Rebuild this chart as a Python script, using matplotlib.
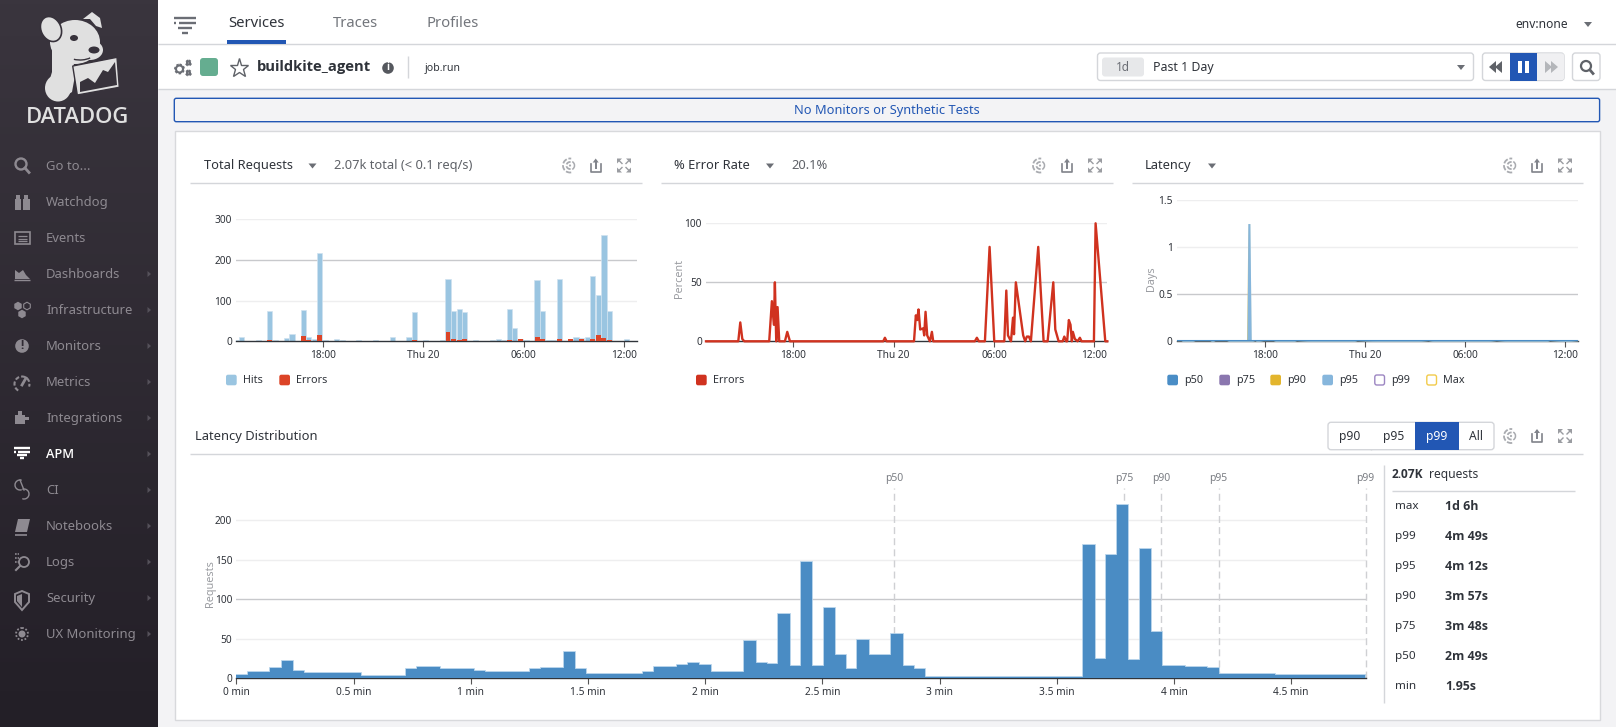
import matplotlib
matplotlib.use('Agg')
import matplotlib.pyplot as plt
import matplotlib.patches as mpatches
import numpy as np

plt.rcParams['font.family'] = ['Noto Sans', 'DejaVu Sans']

# total requests, 20 minute bins
hits = [3, 10, 0, 0, 3, 0, 75, 3, 0, 8, 18, 0, 77, 10, 5, 218, 3, 0, 5, 3, 0, 0, 3, 0,
        0, 3, 0, 0, 10, 0, 0, 10, 72, 0, 3, 0, 0, 3, 153, 75, 79, 72, 0, 3, 0, 0, 3, 5,
        3, 79, 32, 5, 3, 0, 151, 75, 3, 3, 153, 0, 5, 10, 8, 10, 161, 114, 262, 75, 0, 0, 5, 0]
errors = [0, 0, 0, 0, 0, 0, 3, 0, 0, 0, 0, 0, 13, 3, 0, 15, 0, 0, 0, 0, 0, 0, 0, 0,
          0, 0, 0, 0, 0, 0, 0, 0, 3, 0, 0, 0, 0, 0, 23, 5, 3, 5, 0, 0, 0, 0, 0, 0,
          0, 3, 0, 5, 0, 0, 10, 5, 0, 0, 5, 0, 5, 0, 5, 0, 5, 15, 8, 3, 0, 0, 0, 0]

# error rate, hours relative to 18:00
rate_hours = [-5.22, -3.29, -3.17, -3.05, -2.93, -1.44, -1.28, -1.16, -1.10, -1.02, -0.94, -0.84,
              -0.50, -0.36, -0.20, 5.38, 5.48, 5.58, 7.22, 7.33, 7.41, 7.49, 7.59, 7.77, 7.83,
              7.91, 8.01, 8.17, 8.29, 8.37, 10.86, 10.98, 11.10, 11.46, 11.74, 12.02, 12.62,
              12.74, 12.84, 13.02, 13.14, 13.20, 13.31, 13.75, 13.87, 13.97, 14.09, 14.21, 14.65,
              14.97, 15.21, 15.55, 15.67, 15.87, 16.11, 16.21, 16.32, 16.38, 16.48, 16.58, 16.66,
              16.72, 16.84, 17.00, 17.14, 17.24, 17.98, 18.08, 18.66, 18.78]
rate_pct = [0, 0, 16, 2, 0, 0, 34, 14, 50, 0, 29, 0,
            0, 8, 0, 0, 3, 0, 0, 22, 18, 27, 10, 11, 5,
            25, 5, 0, 8, 0, 0, 3, 0, 0, 80, 0, 0,
            43, 5, 0, 20, 6, 50, 5, 0, 4, 4, 0, 80,
            0, 0, 50, 10, 0, 0, 4, 0, 0, 18, 14, 0,
            8, 2, 0, 3, 0, 0, 100, 0, 0]

# latency in days
lat_hours = [-5.26, -5.0, -4.86, -4.37, -4.17, -3.27, -3.13, -2.97, -2.27, -2.07, -1.57, -1.28,
             -1.08, -1.04, -1.0, -0.88, -0.80, -0.58, -0.44, -0.08, 0.52, 0.72, 1.71, 1.91,
             3.01, 3.81, 4.11, 5.30, 5.54, 7.0, 8.49, 9.09, 9.79, 10.19, 11.28, 12.68, 13.27,
             13.87, 14.67, 15.07, 16.86, 17.06, 18.06, 18.76]
lat_p90 = [0.002, 0.002, 0.01, 0.01, 0.002, 0.002, 0.01, 0.002, 0.002, 0.01, 0.01, 0.01,
           0.01, 0.6, 1.25, 0.01, 0.01, 0.002, 0.01, 0.002, 0.002, 0.01, 0.01, 0.002,
           0.01, 0.01, 0.01, 0.01, 0.002, 0.01, 0.01, 0.01, 0.002, 0.01, 0.01, 0.01, 0.01,
           0.002, 0.01, 0.01, 0.01, 0.002, 0.01, 0.002]
lat_p95 = [0.003, 0.003, 0.012, 0.012, 0.003, 0.003, 0.012, 0.003, 0.003, 0.012, 0.012, 0.012,
           0.012, 0.012, 1.25, 1.25, 0.012, 0.003, 0.012, 0.003, 0.003, 0.012, 0.012, 0.003,
           0.012, 0.012, 0.012, 0.012, 0.003, 0.012, 0.012, 0.012, 0.003, 0.012, 0.012, 0.012, 0.012,
           0.003, 0.012, 0.012, 0.012, 0.003, 0.012, 0.003]
lat_max = [0.005, 0.005, 0.016, 0.016, 0.005, 0.005, 0.016, 0.005, 0.005, 0.016, 0.016, 0.016,
           0.016, 0.016, 1.25, 1.25, 0.016, 0.005, 0.016, 0.005, 0.005, 0.016, 0.016, 0.005,
           0.016, 0.016, 0.016, 0.016, 0.005, 0.016, 0.016, 0.016, 0.005, 0.016, 0.016, 0.016, 0.016,
           0.005, 0.016, 0.016, 0.016, 0.005, 0.016, 0.005]
p50_hours = [-5.26, 18.76]
lat_p50 = [0.003, 0.003]

# latency distribution, 100 bins up to p99
requests = [4, 8.5, 8.5, 13, 21.5, 9.5, 6.5, 6.5, 6.5, 6.5, 6.5, 3.5, 3.5, 3.5, 3.5, 11.5, 14.5, 14.5, 11.5, 11.5,
            11.5, 9.5, 8.5, 8.5, 8.5, 8.5, 11.5, 12.5, 12.5, 33.5, 11.5, 5.5, 5.5, 5.5, 5.5, 5.5, 7.5, 14.5, 14.5, 16.5,
            19.5, 16.5, 8.5, 8.5, 8.5, 47.5, 19.5, 17.5, 81.5, 15.6, 147, 15.6, 89, 29.5, 11.5, 48.5, 29.5, 29.5, 55.7, 16,
            11.5, 1.5, 1.5, 1.5, 1.5, 1.5, 1.5, 1.5, 1.5, 1.5, 1.5, 1.5, 1.5, 1.5, 1.5, 169, 25, 156, 219, 23,
            163, 58, 15.6, 15.6, 14.3, 14.3, 13.5, 5.5, 5.5, 5.5, 5.5, 5.5, 4, 4, 4, 4, 4, 4, 4, 4]
p_names = ['p50', 'p75', 'p90', 'p95', 'p99']
p_minutes = [2.806, 3.788, 3.946, 4.19, 4.817]

stat_names = ['max', 'p99', 'p95', 'p90', 'p75', 'p50', 'min']
stat_values = ['1d 6h', '4m 49s', '4m 12s', '3m 57s', '3m 48s', '2m 49s', '1.95s']

nav_items = ['Go to...', 'Watchdog', 'Events', 'Dashboards', 'Infrastructure', 'Monitors', 'Metrics',
             'Integrations', 'APM', 'CI', 'Notebooks', 'Logs', 'Security', 'UX Monitoring']
hour_ticks = [0, 6, 12, 18]
hour_labels = ['18:00', 'Thu 20', '06:00', '12:00']
dist_ticks = [0, 0.5, 1, 1.5, 2, 2.5, 3, 3.5, 4, 4.5]
dist_labels = ['0 min', '0.5 min', '1 min', '1.5 min', '2 min', '2.5 min', '3 min', '3.5 min', '4 min', '4.5 min']

W, H = 1616, 727
TEXT = '#2f333a'
ICON = '#80838a'
BLUE = '#2257b4'
LINE = '#d4d6da'

fig = plt.figure(figsize=(W / 100, H / 100), dpi=100, facecolor='#f3f3f5')
bg = fig.add_axes([0, 0, 1, 1])
bg.set_axis_off()


def rect(x0, y0, x1, y1, fc='white', ec='none', lw=1, r=0, z=1):
    bs = 'round,pad=0,rounding_size=%s' % r if r else 'square,pad=0'
    bg.add_patch(mpatches.FancyBboxPatch((x0, y0), x1 - x0, y1 - y0, boxstyle=bs, fc=fc, ec=ec, lw=lw, zorder=z))


def txt(x, y, s, size=8.5, color=TEXT, weight='normal', ha='left', z=5):
    # Noto Sans here has no bold face, Open Sans does
    family = 'Open Sans' if weight != 'normal' else 'Noto Sans'
    bg.text(x, y + 0.8, s, fontsize=size, color=color, fontweight=weight, family=family, ha=ha, va='center', zorder=z)


def hline(x0, x1, y, color=LINE, lw=1):
    bg.plot([x0, x1], [y, y], color=color, lw=lw, solid_capstyle='butt', zorder=2)


def vline(x, y0, y1, color=LINE, lw=1):
    bg.plot([x, x], [y0, y1], color=color, lw=lw, solid_capstyle='butt', zorder=2)


def poly(pts, fc, z=4, ec='none', lw=1):
    bg.add_patch(mpatches.Polygon(pts, closed=True, fc=fc, ec=ec, lw=lw, zorder=z))


def circle(x, y, r, fc='none', ec=ICON, lw=1.2, z=4, ls='-'):
    bg.add_patch(mpatches.Circle((x, y), r, fc=fc, ec=ec, lw=lw, ls=ls, zorder=z))


def caret(x, y, color='#6b6e75', s=4):
    poly([(x - s, y - 2), (x + s, y - 2), (x, y + 3)], color)


def filter_icon(x, y, color, scale=1.0):
    # apm style stack of lines, x is the centre
    s = scale
    hline(x - 12 * s, x + 12 * s, y - 7 * s, color, 1.7)
    hline(x - 12 * s, x - 9 * s, y - 2 * s, color, 1.7)
    hline(x - 6 * s, x + 12 * s, y - 2 * s, color, 1.7)
    hline(x - 7 * s, x + 7 * s, y + 3 * s, color, 1.7)
    hline(x - 3 * s, x + 3 * s, y + 8 * s, color, 1.7)


def panel_icons(x0, x1, x2, y):
    for r in (3.5, 7):
        bg.add_patch(mpatches.Arc((x0 + 2, y), r * 2, r * 2, theta1=80, theta2=280, color='#a9abb0', lw=1.3, ls=(0, (3, 1)), zorder=4))
    bg.add_patch(mpatches.Arc((x0 + 2, y), 9, 9, theta1=-60, theta2=60, color='#a9abb0', lw=1.1, zorder=4))
    circle(x0 + 2, y, 1.1, fc='#a9abb0', ec='none')
    # share
    bg.plot([x1 - 5, x1 - 5, x1 + 5, x1 + 5], [y - 2, y + 6, y + 6, y - 2], color=ICON, lw=1.2, zorder=4)
    vline(x1, y - 6, y + 3, ICON, 1.4)
    poly([(x1 - 3, y - 3), (x1, y - 7), (x1 + 3, y - 3)], ICON)
    # expand
    for sx in (-1, 1):
        for sy in (-1, 1):
            poly([(x2 + sx * 7, y + sy * 7), (x2 + sx * 2, y + sy * 7), (x2 + sx * 7, y + sy * 2)], '#9a9ca1')
            bg.plot([x2 + sx * 5, x2 + sx * 2], [y + sy * 5, y + sy * 2], color='#9a9ca1', lw=1, zorder=4)


def gear(x, y, r):
    circle(x, y, r + 0.8, fc='none', ec='#6b6e75', lw=1.6, ls=(0, (1, 0.8)))
    circle(x, y, r, fc='white', ec='#6b6e75', lw=1.5, z=5)


def chart_axes(left, top, right, bottom):
    ax = fig.add_axes([left / W, 1 - bottom / H, (right - left) / W, (bottom - top) / H])
    ax.patch.set_alpha(0)
    for side in ('top', 'left', 'right'):
        ax.spines[side].set_visible(False)
    ax.spines['bottom'].set_color('#30343a')
    ax.spines['bottom'].set_linewidth(1)
    ax.tick_params(axis='y', length=0, labelsize=7.3, labelcolor=TEXT, pad=3)
    ax.tick_params(axis='x', length=4, width=0.8, color='#555', labelsize=7.3, labelcolor=TEXT, pad=2)
    ax.set_axisbelow(True)
    return ax


def grid(ax, ticks, labels, strong):
    ax.set_yticks(ticks)
    ax.set_yticklabels(labels)
    for t in ticks[1:]:
        ax.axhline(t, color='#c8c9cc' if t == strong else '#eeeeef', lw=1, zorder=0)


def legend_chip(x, y, color, label, hollow=False):
    if hollow:
        rect(x + 0.5, y - 5, x + 10.2, y + 5, fc='white', ec=color, lw=1, r=2, z=4)
    else:
        rect(x, y - 5.3, x + 10.7, y + 5.3, fc=color, r=2, z=4)
    txt(x + 17, y, label, 7.8)


bar_hours = np.arange(len(hits)) / 3 - 5.2

# page frame
bg.set_xlim(0, W)
bg.set_ylim(H, 0)
rect(158, 0, W, 44, fc='white')
rect(158, 44, W, 89, fc='white')
hline(158, W, 44.3)
hline(158, W, 89.3)

# sidebar
shade = np.linspace(0, 1, 200).reshape(-1, 1)
bg.imshow(shade, extent=(0, 158, H, 0), aspect='auto', zorder=1,
          cmap=matplotlib.colors.LinearSegmentedColormap.from_list('side', ['#3a353e', '#231f27']))
bg.set_xlim(0, W)
bg.set_ylim(H, 0)

# logo
DOG = '#e0e0e0'
DARK = '#37323b'
bg.add_patch(mpatches.Ellipse((75, 42), 50, 44, fc=DOG, zorder=3))
bg.add_patch(mpatches.Ellipse((90, 50), 26, 20, fc=DOG, zorder=3))
poly([(52, 40), (72, 60), (76, 70), (72, 92), (58, 101), (46, 92), (52, 72)], DOG, z=3)
bg.add_patch(mpatches.Ellipse((58, 88), 26, 27, fc=DOG, zorder=3))
bg.add_patch(mpatches.Ellipse((51, 29), 20, 26, angle=-25, fc=DOG, ec=DARK, lw=1.2, zorder=4))
poly([(83, 19), (92, 12), (100, 18), (102, 28), (96, 26), (90, 19)], DOG)
bg.add_patch(mpatches.Ellipse((74, 38), 8, 6, fc=DARK, zorder=5))
bg.add_patch(mpatches.Ellipse((94, 50), 11, 7, fc=DARK, zorder=5))
bg.add_patch(mpatches.Arc((80, 52), 30, 16, theta1=30, theta2=130, color=DARK, lw=1, zorder=5))
poly([(72.7, 66), (117, 57.3), (119.3, 87.3), (77.3, 95)], DOG, z=5, ec=DARK, lw=1)
poly([(80, 92), (80, 82), (88, 78), (95, 83), (103, 70), (108, 72), (115, 62), (117, 85)], DARK, z=6)
txt(78, 116.5, 'DATADOG', 15.8, '#e0e0e0', 'semibold', 'center')

for i, name in enumerate(nav_items):
    y = 166 + 36 * i
    active = name == 'APM'
    if active:
        txt(46, y, name, 9.2, 'white', 'semibold')
    else:
        txt(46, y, name, 9.4, '#8e8a91')
    if i >= 3:
        poly([(147.5, y - 3), (151, y), (147.5, y + 3)], '#55515a')

NAV = '#8e8a91'
circle(21, 164, 5.5, ec=NAV, lw=1.7)
bg.plot([25, 29], [168, 172.5], color=NAV, lw=2, zorder=4)
rect(14.5, 199, 21, 210, fc=NAV, z=4)
rect(23, 199, 29.5, 210, fc=NAV, z=4)
rect(16, 194.5, 20, 200, fc=NAV, z=4)
rect(24, 194.5, 28, 200, fc=NAV, z=4)
rect(15, 232, 29.5, 244, fc='none', ec=NAV, lw=1.2, z=4)
for yy in (236, 238.5, 241):
    hline(18, 27, yy, NAV, 0.9)
poly([(15, 279), (15, 270), (19, 273), (23, 270), (26, 275), (30, 279)], NAV)
hline(14, 30, 279.5, NAV, 1)
bg.add_patch(mpatches.RegularPolygon((18, 306), 6, radius=4.3, fc=NAV, zorder=4))
bg.add_patch(mpatches.RegularPolygon((27, 306), 6, radius=3.8, fc='none', ec=NAV, lw=0.8, zorder=4))
bg.add_patch(mpatches.RegularPolygon((22, 314), 6, radius=4.3, fc=NAV, zorder=4))
circle(22, 346, 6.8, fc=NAV, ec='none')
txt(22, 344.7, '!', 8.5, '#2f2a33', 'bold', 'center')
bg.add_patch(mpatches.Arc((22, 384), 15, 15, theta1=120, theta2=20, color=NAV, lw=1.5, ls=(0, (2, 1)), zorder=4))
bg.plot([22, 26], [385, 378], color=NAV, lw=2, zorder=4)
rect(14.5, 415, 25, 424, fc=NAV, z=4)
rect(18, 411, 22, 416, fc=NAV, z=4)
rect(25, 417, 29, 420, fc=NAV, z=4)
filter_icon(22, 453, 'white', 0.66)
bg.add_patch(mpatches.Arc((20, 485), 10, 10, theta1=70, theta2=290, color=NAV, lw=1, zorder=4))
bg.add_patch(mpatches.Arc((24, 494), 10, 10, theta1=-110, theta2=110, color=NAV, lw=1, zorder=4))
bg.plot([20, 24], [480, 490], color=NAV, lw=1, zorder=4)
poly([(18, 519), (30, 519), (27, 532), (15, 532)], NAV)
hline(15, 27, 535, NAV, 1.2)
circle(24, 562, 5, ec=NAV, lw=1.3)
bg.plot([20, 16], [566, 570], color=NAV, lw=1.5, zorder=4)
for yy in (554, 558, 562):
    bg.plot([15, 19], [yy, yy], color=NAV, lw=1.2, ls=(0, (1, 0.6)), zorder=4)
poly([(15, 594), (22, 591), (29, 594), (29, 602), (22, 610), (15, 602)], 'none', ec=NAV, lw=1.4)
poly([(17, 596), (22, 594), (22, 607), (17, 601)], NAV)
circle(22, 634, 6, fc='none', ec=NAV, lw=1.3, ls=(0, (1, 1)))
circle(22, 634, 3.5, fc=NAV, ec='none')

# top bar
filter_icon(185, 25, '#6b6e75', 0.95)
tab_names = ['Services', 'Traces', 'Profiles']
tab_x = [228, 333, 426.5]
for x, name in zip(tab_x, tab_names):
    txt(x, 22.5, name, 10.7, TEXT if name == 'Services' else '#73767c')
rect(227, 40, 286, 43.7, fc=BLUE, z=3)
txt(1515, 23.5, 'env:none', 8.7, TEXT)
caret(1588, 24)

gear(179.5, 69, 3.5)
gear(188.5, 63, 1.5)
gear(188.5, 73, 1.5)
rect(200, 58, 218, 76, fc='#65ad90', r=3, z=4)
bg.plot([239], [68], marker='*', ms=14, mfc='white', mec='#5f6268', mew=1, zorder=4)
txt(256.5, 66.5, 'buildkite_agent', 10.6, TEXT, 'bold')
circle(388, 68, 5.8, fc='#55585e', ec='none')
txt(388, 66.8, 'i', 7, 'white', 'bold', 'center')
vline(408, 56, 78)
txt(424.5, 67.5, 'job.run', 7.6, TEXT)

rect(1097.5, 53, 1473.5, 80.5, fc='white', ec=LINE, r=3, z=3)
rect(1102, 57.5, 1144, 76.5, fc='#e7e8ea', r=3, z=4)
txt(1123, 66.5, '1d', 8.5, '#6b6e75', ha='center')
txt(1153, 66.5, 'Past 1 Day', 8.9, TEXT)
caret(1461, 67)
rect(1482.5, 53, 1564, 80.5, fc='white', ec=LINE, r=3, z=3)
rect(1537, 53.5, 1564, 80, fc='#f0f0f2', r=2, z=3)
rect(1509.5, 53, 1537, 80.5, fc=BLUE, z=4)
rect(1517.5, 61, 1521.5, 73, fc='white', z=5)
rect(1525, 61, 1529, 73, fc='white', z=5)
for dx in (0, 6):
    poly([(1496 + dx, 61), (1496 + dx, 73), (1489 + dx, 67)], '#5f6268')
    poly([(1545 + dx, 61), (1545 + dx, 73), (1552 + dx, 67)], '#b4b6ba')
rect(1572.5, 53, 1600, 80.5, fc='white', ec=LINE, r=3, z=3)
circle(1586, 66, 5, ec='#5f6268', lw=1.6)
hline(1583, 1589, 66, '#5f6268', 1.2)
bg.plot([1590, 1593], [70, 73.5], color='#5f6268', lw=2, zorder=4)

rect(174.3, 98.3, 1599.6, 121.7, fc='#f3f3f5', ec=BLUE, lw=1, r=2, z=2)
txt(887, 109.5, 'No Monitors or Synthetic Tests', 9.25, BLUE, ha='center')

rect(174.5, 130.5, 1599.5, 719.5, fc='white', ec='#d8d9dc', lw=1, z=1)

# panel headers
txt(204, 165, 'Total Requests', 9.25)
caret(312.5, 165.5)
txt(334, 165, '2.07k total (< 0.1 req/s)', 9.25, '#5f6268')
panel_icons(568, 595.7, 624, 165.5)
hline(190, 642, 183)
txt(674, 165, '% Error Rate', 9.25)
caret(770, 165.5)
txt(791, 165, '20.1%', 9.25, '#5f6268')
panel_icons(1038, 1067, 1095, 165.5)
hline(661, 1113, 183)
txt(1144.5, 165, 'Latency', 9.25)
caret(1212, 165.5)
panel_icons(1509, 1537, 1565, 165.5)
hline(1132, 1583, 183)

# total requests
ax1 = chart_axes(236, 219.3, 637, 341.3)
ax1.bar(bar_hours, hits, width=0.31, color='#9ac5e1', edgecolor='#cfe2f0', linewidth=0.5, zorder=2)
ax1.bar(bar_hours, errors, width=0.29, color='#dc4427', zorder=3)
ax1.set_xlim(-5.22, 18.78)
ax1.set_ylim(0, 300)
ax1.set_xticks(hour_ticks)
ax1.set_xticklabels(hour_labels)
grid(ax1, [0, 100, 200, 300], ['0', '100', '200', '300'], 200)
legend_chip(226, 380, '#9ac5e1', 'Hits')
legend_chip(279.3, 380, '#dc4427', 'Errors')

# error rate
ax2 = chart_axes(706, 223.3, 1107.3, 341.3)
ax2.plot(rate_hours, rate_pct, color='#d0321f', lw=1.7, solid_joinstyle='round', clip_on=False, zorder=3)
ax2.set_xlim(-5.22, 18.78)
ax2.set_ylim(0, 100)
ax2.set_xticks(hour_ticks)
ax2.set_xticklabels(hour_labels)
grid(ax2, [0, 50, 100], ['0', '50', '100'], 50)
ax2.set_ylabel('Percent', fontsize=7.8, color='#9a9ca1')
ax2.yaxis.set_label_coords((685 - 706) / 401.3, 0.53)
legend_chip(696, 380, '#d0321f', 'Errors')

# latency
ax3 = chart_axes(1176.7, 200, 1578, 341.3)
ax3.fill_between(lat_hours, lat_max, color='#e4e9d8', lw=0, zorder=2)
ax3.fill_between(lat_hours, lat_p90, color='#c6c28e', lw=0, zorder=3)
ax3.fill_between(lat_hours, lat_p95, color='#86b6dc', lw=0, zorder=4)
ax3.plot(p50_hours, lat_p50, color='#4a8dc6', lw=1.5, zorder=5)
ax3.set_xlim(-5.26, 18.76)
ax3.set_ylim(0, 1.5)
ax3.set_xticks(hour_ticks)
ax3.set_xticklabels(hour_labels)
grid(ax3, [0, 0.5, 1, 1.5], ['0', '0.5', '1', '1.5'], 0.5)
ax3.set_ylabel('Days', fontsize=7.8, color='#9a9ca1')
ax3.yaxis.set_label_coords((1157 - 1176.7) / 401.3, 0.44)
legend_chip(1167.3, 380, '#4a8dc6', 'p50')
legend_chip(1219.3, 380, '#8a76ae', 'p75')
legend_chip(1270.3, 380, '#e3b52d', 'p90')
legend_chip(1322.3, 380, '#86b6dc', 'p95')
legend_chip(1374.3, 380, '#9c86c2', 'p99', hollow=True)
legend_chip(1426.3, 380, '#f2cb4b', 'Max', hollow=True)

# latency distribution
txt(195, 435.5, 'Latency Distribution', 9.3)
rect(1328, 422.3, 1494, 449.7, fc='white', ec=LINE, r=3, z=3)
rect(1415, 422.3, 1459, 449.7, fc=BLUE, z=4)
vline(1371, 422.5, 449.5)
txt(1350, 435.5, 'p90', 8.7, ha='center')
txt(1393.5, 435.5, 'p95', 8.7, ha='center')
txt(1437, 435.5, 'p99', 8.7, 'white', ha='center')
txt(1476, 435.5, 'All', 8.7, ha='center')
panel_icons(1509, 1537, 1565, 436)
hline(190, 1583, 454.3)

p99_min = p_minutes[-1]
edges = np.linspace(0, p99_min, len(requests) + 1)
ax4 = chart_axes(236.4, 488.3, 1365.5, 678.3)
ax4.bar(edges[:-1], requests, width=np.diff(edges), align='edge', color='#4a8cc4', zorder=3)
ax4.stairs(requests, edges, color='#a9cbe6', lw=1.2, zorder=2)
ax4.set_xlim(0, p99_min)
ax4.set_ylim(0, 240)
ax4.set_xticks(dist_ticks)
ax4.set_xticklabels(dist_labels)
grid(ax4, [0, 50, 100, 150, 200], ['0', '50', '100', '150', '200'], 100)
ax4.set_ylabel('Requests', fontsize=7.8, color='#9a9ca1')
ax4.yaxis.set_label_coords((216 - 236.4) / 1129.1, 0.5)
for name, m in zip(p_names, p_minutes):
    ax4.axvline(m, color='#cfd0d3', lw=1, ls=(0, (5, 3)), zorder=1, clip_on=False)
    ax4.text(m, 1.0526, name, transform=ax4.get_xaxis_transform(), fontsize=7.5,
             color='#7b7e84', ha='center', va='center')

# stats column
vline(1383.7, 465, 703)
txt(1392, 473.5, '2.07K', 8.6, TEXT, 'bold')
txt(1429.3, 473.5, 'requests', 8.7)
hline(1392, 1575, 491.3)
for i, (name, val) in enumerate(zip(stat_names, stat_values)):
    y = 506 + 30 * i
    txt(1395.3, y, name, 8.4)
    txt(1445, y, val, 8.9, weight='bold')

fig.savefig('out.png', dpi=100, facecolor=fig.get_facecolor())
